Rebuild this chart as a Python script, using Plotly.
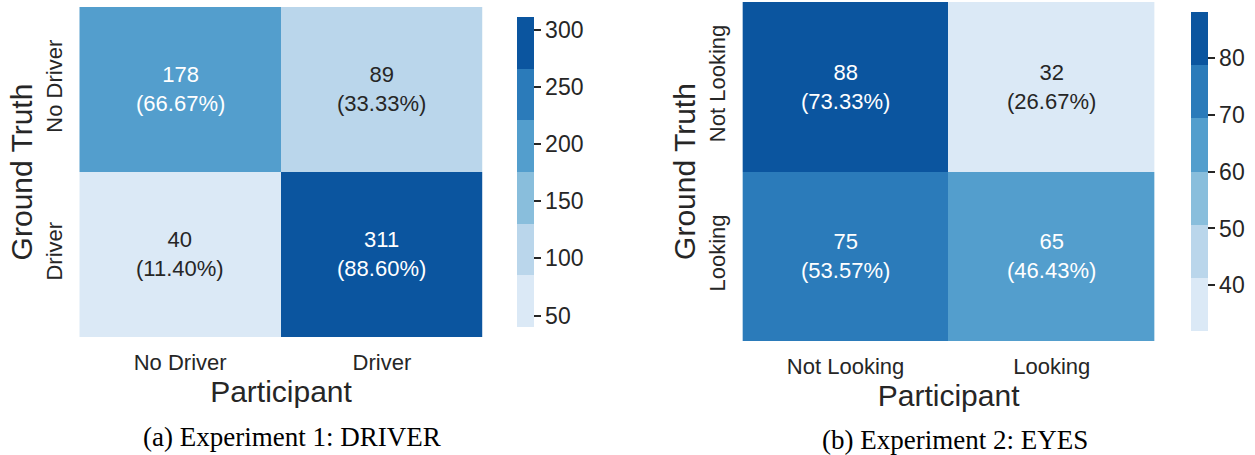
import plotly.graph_objects as go

W, H = 1255, 455

# Data
cats1 = ["No Driver", "Driver"]
counts1 = [[178, 89], [40, 311]]
pct1 = [["66.67%", "33.33%"], ["11.40%", "88.60%"]]

cats2 = ["Not Looking", "Looking"]
counts2 = [[88, 32], [75, 65]]
pct2 = [["73.33%", "26.67%"], ["53.57%", "46.43%"]]

cb1_ticks = [50, 100, 150, 200, 250, 300]
cb2_ticks = [40, 50, 60, 70, 80]

captions = ["(a) Experiment 1: DRIVER", "(b) Experiment 2: EYES"]

blues6 = ["#dbe9f6", "#bad6eb", "#89bedc", "#539ecd", "#2b7bba", "#0b559f"]


def discrete_scale(cols):
    n = len(cols)
    cs = []
    for i, c in enumerate(cols):
        cs.append([i / n, c])
        cs.append([(i + 1) / n, c])
    return cs


def px_x(v):
    return v / W


def px_y(v):
    return 1 - v / H


DARK = "#262626"
SANS = "Liberation Sans, Arial, sans-serif"
SERIF = "Liberation Serif, Times New Roman, serif"

fig = go.Figure()

panels = [
    dict(cats=cats1, counts=counts1, pct=pct1, ticks=cb1_ticks, xa="x", ya="y",
         hx=(80, 487), hy=(7, 337), cbx=511, cby=(7, 337), capx=295, capy=437),
    dict(cats=cats2, counts=counts2, pct=pct2, ticks=cb2_ticks, xa="x2", ya="y2",
         hx=(749, 1165), hy=(2, 341), cbx=1191, cby=(2, 341), capx=963, capy=440),
]

annotations = []
for k, p in enumerate(panels):
    flat = [v for row in p["counts"] for v in row]
    zmin, zmax = min(flat), max(flat)
    fig.add_trace(go.Heatmap(
        z=p["counts"], x=p["cats"], y=p["cats"], xaxis=p["xa"], yaxis=p["ya"],
        zmin=zmin, zmax=zmax, colorscale=discrete_scale(blues6),
        hoverinfo="skip",
        colorbar=dict(
            x=px_x(p["cbx"]), xanchor="left", xref="paper",
            y=px_y((p["cby"][0] + p["cby"][1]) / 2), yanchor="middle",
            lenmode="pixels", len=p["cby"][1] - p["cby"][0],
            thicknessmode="pixels", thickness=17,
            outlinewidth=0, tickvals=p["ticks"], ticks="outside",
            ticklen=7, tickwidth=2, tickcolor=DARK,
            tickfont=dict(family=SANS, size=23, color=DARK),
        ),
    ))
    for i, rowcat in enumerate(p["cats"]):
        for j, colcat in enumerate(p["cats"]):
            v = p["counts"][i][j]
            frac = (v - zmin) / (zmax - zmin)
            col = "white" if frac > 0.45 else DARK
            annotations.append(dict(
                x=colcat, y=rowcat, xref=p["xa"], yref=p["ya"],
                text=f"{v}<br>({p['pct'][i][j]})", showarrow=False,
                font=dict(family=SANS, size=22, color=col),
            ))

    # caption
    annotations.append(dict(
        x=px_x(p["capx"]), y=px_y(p["capy"]), xref="paper", yref="paper", showarrow=False,
        text=captions[k], font=dict(family=SERIF, size=27, color="black"),
        xanchor="center", yanchor="middle",
    ))

layout_axes = {}
for k, p in enumerate(panels):
    sx = "" if k == 0 else str(k + 1)
    layout_axes[f"xaxis{sx}"] = dict(
        domain=[px_x(p["hx"][0]), px_x(p["hx"][1])], anchor=p["ya"],
        showgrid=False, zeroline=False, showline=False, ticks="",
        ticklabelstandoff=10,
        tickfont=dict(family=SANS, size=22, color=DARK),
        title=dict(text="Participant", font=dict(family=SANS, size=30, color=DARK), standoff=0),
        fixedrange=True,
    )
    layout_axes[f"yaxis{sx}"] = dict(
        domain=[px_y(p["hy"][1]), px_y(p["hy"][0])], anchor=p["xa"],
        autorange="reversed", showgrid=False, zeroline=False, showline=False, ticks="",
        tickangle=-90, ticklabelstandoff=12,
        tickfont=dict(family=SANS, size=22, color=DARK),
        title=dict(text="Ground Truth", font=dict(family=SANS, size=30, color=DARK), standoff=0),
        fixedrange=True,
    )

fig.update_layout(
    width=W, height=H, margin=dict(l=0, r=0, t=0, b=0),
    paper_bgcolor="white", plot_bgcolor="white",
    annotations=annotations, **layout_axes,
)

fig.write_html("out.html")
